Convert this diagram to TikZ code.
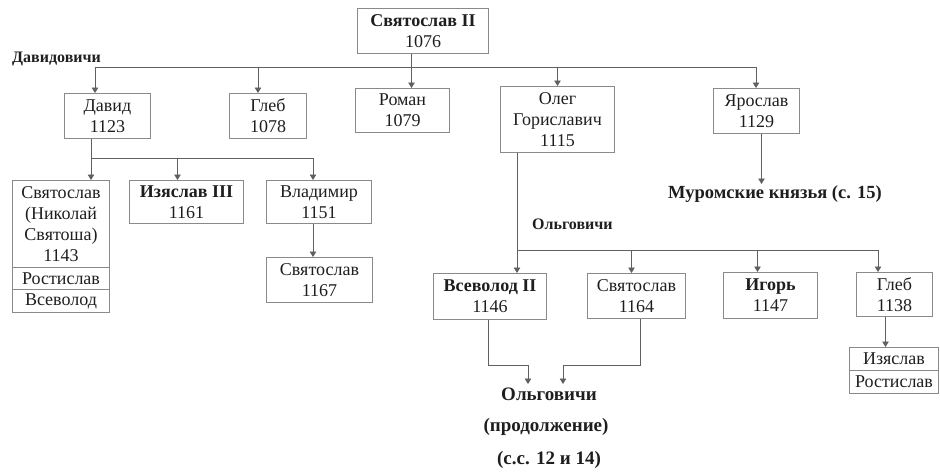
\documentclass[tikz,border=0pt]{standalone}
\usepackage{fontspec}
\setmainfont{Liberation Serif}
\usetikzlibrary{arrows.meta}
\definecolor{txt}{HTML}{1E1E1E}
\definecolor{lncol}{HTML}{606060}
\definecolor{boxcol}{HTML}{8A8A8A}
\tikzset{
  pbox/.style={draw=boxcol, line width=1pt, inner sep=0pt, anchor=north west, align=center, text=txt,
    font=\fontsize{18}{21}\selectfont},
  lbl/.style={inner sep=0pt, text=txt, font=\bfseries\fontsize{16}{18}\selectfont},
  biglbl/.style={lbl, font=\bfseries\fontsize{19}{21}\selectfont},
  ln/.style={draw=lncol, line width=0.9pt},
  arr/.style={ln, -{Triangle[width=6.5pt,length=5.5pt]}}
}
\begin{document}
\begin{tikzpicture}[x=1pt,y=-1pt]
\useasboundingbox (0,0) rectangle (940,472);
% boxes
\node[pbox, minimum width=131pt, minimum height=45pt] (top) at (357,8) {\textbf{Святослав II}\\1076};
\node[pbox, minimum width=86pt, minimum height=45pt] (david) at (64,93) {Давид\\1123};
\node[pbox, minimum width=77pt, minimum height=45pt] (gleb1) at (229,93) {Глеб\\1078};
\node[pbox, minimum width=94pt, minimum height=44pt] (roman) at (355,88) {Роман\\1079};
\node[pbox, minimum width=114pt, minimum height=66pt] (oleg) at (500,86) {Олег\\Гориславич\\1115};
\node[pbox, minimum width=86pt, minimum height=45pt] (yarosl) at (713,88) {Ярослав\\1129};
\node[pbox, minimum width=97pt, minimum height=87pt] (svn) at (12,180) {Святослав\\(Николай\\Святоша)\\1143};
\node[pbox, minimum width=97pt, minimum height=22pt] (rost1) at (12,267) {Ростислав};
\node[pbox, minimum width=97pt, minimum height=23pt] (vsev1) at (12,289) {Всеволод};
\node[pbox, minimum width=114pt, minimum height=43pt] (izyas3) at (129,180) {\textbf{Изяслав III}\\1161};
\node[pbox, minimum width=105pt, minimum height=43pt] (vlad) at (266,180) {Владимир\\1151};
\node[pbox, minimum width=106pt, minimum height=45pt] (svy1167) at (266,257) {Святослав\\1167};
\node[pbox, minimum width=113pt, minimum height=46pt] (vsev2) at (433,273) {\textbf{Всеволод II}\\1146};
\node[pbox, minimum width=98pt, minimum height=45pt] (svy1164) at (587,273) {Святослав\\1164};
\node[pbox, minimum width=94pt, minimum height=46pt] (igor) at (723,272) {\textbf{Игорь}\\1147};
\node[pbox, minimum width=76pt, minimum height=44pt] (gleb2) at (856,272) {Глеб\\1138};
\node[pbox, minimum width=89pt, minimum height=23pt] (izyas) at (849,347) {Изяслав};
\node[pbox, minimum width=89pt, minimum height=23pt] (rost2) at (849,370) {Ростислав};
% labels
\node[lbl, anchor=west] (davl) at (12,59) {Давидовичи};
\node[lbl, anchor=west] (olgl) at (532,224) {Ольговичи};
\node[lbl, font=\bfseries\fontsize{18.5}{20}\selectfont] (murom) at (775,194) {Муромские князья (с. 15)};
\node[biglbl] (olg2) at (549,394) {Ольговичи};
\node[biglbl] (prod) at (546,427) {(продолжение)};
\node[biglbl] (pages) at (549,460) {(с.с. 12 и 14)};
% top bus
\coordinate (busL) at (95,67);
\coordinate (busR) at (756,67);
\draw[ln] (busL) -- (busR);
\draw[arr] (busL) -- (busL |- david.north);
\draw[arr] ([xshift=-10pt]gleb1.north |- busL) -- ([xshift=-10pt]gleb1.north);
\draw[arr] ([xshift=-11.5pt]top.south) -- ([xshift=-11.5pt]top.south |- roman.north);
\draw[arr] (oleg.north |- busL) -- (oleg.north);
\draw[arr] (busR) -- (busR |- yarosl.north);
% David's sons
\coordinate (dbL) at (91,158);
\coordinate (dbR) at (313,158);
\draw[ln] (dbL |- david.south) -- (dbL) -- (dbR);
\draw[arr] (dbL) -- (dbL |- svn.north);
\draw[arr] ([xshift=-9pt]izyas3.north |- dbL) -- ([xshift=-9pt]izyas3.north);
\draw[arr] (dbR) -- (dbR |- vlad.north);
\draw[arr] (dbR |- vlad.south) -- (dbR |- svy1167.north);
% Oleg's sons
\coordinate (obL) at (517,250);
\coordinate (obR) at (878,250);
\draw[ln] (obL |- oleg.south) -- (obL) -- (obR);
\draw[arr] (obL) -- (obL |- vsev2.north);
\draw[arr] ([xshift=-5pt]svy1164.north |- obL) -- ([xshift=-5pt]svy1164.north);
\draw[arr] ([xshift=-13pt]igor.north |- obL) -- ([xshift=-13pt]igor.north);
\draw[arr] (obR) -- (obR |- gleb2.north);
\draw[arr] ([xshift=-9pt]gleb2.south) -- ([xshift=-9pt]gleb2.south |- izyas.north);
% Yaroslav
\draw[arr] ([xshift=5pt]yarosl.south) -- ([xshift=5pt]yarosl.south |- 0,184);
% continuation
\coordinate (vb) at (488,365);
\coordinate (sb) at (640,365);
\draw[arr] (vb |- vsev2.south) -- (vb) -| (528,384);
\draw[arr] (sb |- svy1164.south) -- (sb) -| (563,384);
\end{tikzpicture}
\end{document}
